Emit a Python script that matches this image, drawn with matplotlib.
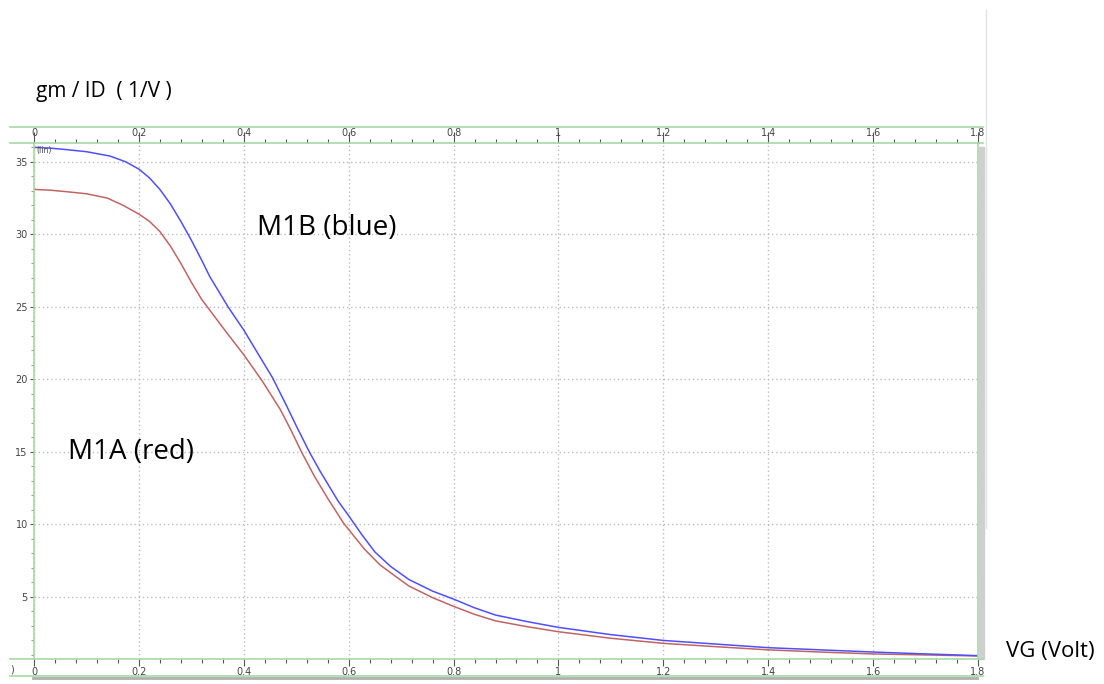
import matplotlib
matplotlib.use("Agg")
import matplotlib.pyplot as plt
from matplotlib.lines import Line2D
from matplotlib.patches import Rectangle
from matplotlib.ticker import MultipleLocator

# gate voltage (V) and gm/ID (1/V)
vg_blue = [0.0, 0.03, 0.06, 0.1, 0.145, 0.175, 0.2, 0.22, 0.24, 0.26, 0.28, 0.3, 0.32,
           0.335, 0.355, 0.37, 0.4, 0.435, 0.455, 0.48, 0.5, 0.525, 0.545, 0.565, 0.58,
           0.6, 0.625, 0.65, 0.68, 0.715, 0.76, 0.8, 0.84, 0.88, 0.94, 1.0, 1.1, 1.2,
           1.3, 1.4, 1.5, 1.6, 1.7, 1.8]
gm_blue = [36.0, 35.95, 35.85, 35.7, 35.4, 35.0, 34.5, 33.9, 33.1, 32.1, 30.9, 29.6, 28.2,
           27.1, 25.9, 25.0, 23.4, 21.3, 20.1, 18.3, 16.8, 15.0, 13.7, 12.5, 11.6,
           10.6, 9.3, 8.1, 7.1, 6.2, 5.4, 4.85, 4.25, 3.75, 3.3, 2.9, 2.4, 2.0,
           1.75, 1.5, 1.35, 1.2, 1.07, 0.95]

vg_red = [0.0, 0.03, 0.06, 0.1, 0.14, 0.17, 0.2, 0.22, 0.24, 0.26, 0.28, 0.3, 0.32, 0.345,
          0.37, 0.4, 0.435, 0.47, 0.49, 0.51, 0.535, 0.56, 0.59, 0.63, 0.66, 0.69,
          0.715, 0.76, 0.8, 0.84, 0.88, 0.94, 1.0, 1.1, 1.2, 1.3, 1.4, 1.5, 1.6, 1.7, 1.8]
gm_red = [33.1, 33.05, 32.95, 32.8, 32.5, 32.0, 31.4, 30.9, 30.2, 29.2, 28.0, 26.7, 25.5, 24.3,
          23.1, 21.7, 19.9, 17.9, 16.5, 15.0, 13.3, 11.8, 10.1, 8.3, 7.2, 6.4,
          5.75, 4.95, 4.35, 3.8, 3.35, 2.95, 2.6, 2.15, 1.8, 1.57, 1.35, 1.2, 1.07, 1.0, 0.93]

x_ticks = [0, 0.2, 0.4, 0.6, 0.8, 1, 1.2, 1.4, 1.6, 1.8]
y_ticks = [5, 10, 15, 20, 25, 30, 35]

W, H = 1104, 684
green = "#a6d8a6"
tick_col = "#555555"


def fx(px):
    return px / W


def fy(py):
    return 1 - py / H


fig = plt.figure(figsize=(W / 100, H / 100), dpi=100)

ax = fig.add_axes([fx(34), fy(659), (978 - 34) / W, (659 - 143) / H])
ax.plot(vg_red, gm_red, color="#c06464", lw=1.1)
ax.plot(vg_blue, gm_blue, color="#4f4fff", lw=1.1)
ax.set_xlim(0, 1.8)
ax.set_ylim(0.72, 36.3)

ax.set_xticks(x_ticks)
ax.set_xticklabels([f"{t:g}" for t in x_ticks])
ax.set_yticks(y_ticks)
ax.xaxis.set_minor_locator(MultipleLocator(0.04))
ax.yaxis.set_minor_locator(MultipleLocator(1))
ax.tick_params(axis="x", which="major", direction="out", length=5, width=0.8,
               color=tick_col, labelsize=7, labelcolor="#444444", pad=1)
ax.tick_params(axis="x", which="minor", direction="out", length=3, width=0.8, color=tick_col)
ax.tick_params(axis="y", which="major", direction="out", length=3, width=0.8,
               color=tick_col, labelsize=7, labelcolor="#444444", pad=1.5)
ax.tick_params(axis="y", which="minor", direction="out", length=2, width=0.8, color="#999999")
ax.grid(True, which="major", ls=(0, (1, 2)), color="#bdbdbd", lw=1)
for s in ["top", "bottom"]:
    ax.spines[s].set_visible(False)
ax.spines["left"].set_color(green)
ax.spines["right"].set_color(green)
ax.spines["left"].set_linewidth(1.2)
ax.spines["right"].set_linewidth(1.2)
ax.text(0.002, 0.995, "(lin)", transform=ax.transAxes, fontsize=5.5, color="#444444",
        ha="left", va="top")

# top axis strip
top = fig.add_axes([fx(34), fy(143), (978 - 34) / W, 16 / H], sharex=ax)
top.set_ylim(0, 1)
top.set_yticks([])
for s in top.spines.values():
    s.set_visible(False)
top.patch.set_alpha(0)
top.tick_params(axis="x", which="major", direction="in", length=8, width=0.8,
                color=tick_col, labelbottom=False)
top.tick_params(axis="x", which="minor", direction="in", length=3, width=0.8, color=tick_col)
for t in x_ticks:
    top.text(t, 0.32, f"{t:g}", fontsize=7, color="#444444", ha="center", va="bottom")

# frame lines of the simulator window
for py in [127, 143, 659, 676]:
    fig.add_artist(Line2D([fx(10), fx(983)], [fy(py), fy(py)], color=green, lw=1.2))
fig.add_artist(Line2D([fx(33), fx(977)], [fy(678), fy(678)], color="#b0b0b0", lw=2))
fig.add_artist(Rectangle((fx(979), fy(659)), 5 / W, (659 - 147) / H,
                         color="#cfcfcf", transform=fig.transFigure))
fig.add_artist(Line2D([fx(986), fx(986)], [fy(10), fy(528)], color="#e2e2e2", lw=1))

# annotations
font = "Open Sans"
fig.text(fx(36), fy(92), "gm / ID  ( 1/V )", fontsize=15, family=font, ha="left", va="center")
fig.text(fx(257), fy(228), "M1B (blue)", fontsize=20, family=font, ha="left", va="center")
fig.text(fx(68), fy(452), "M1A (red)", fontsize=20, family=font, ha="left", va="center")
fig.text(fx(1006), fy(652), "VG (Volt)", fontsize=16, family=font, ha="left", va="center")
fig.text(fx(10), fy(670), ")", fontsize=7, color="#444444", ha="left", va="center")

fig.savefig("out.png", dpi=100)
